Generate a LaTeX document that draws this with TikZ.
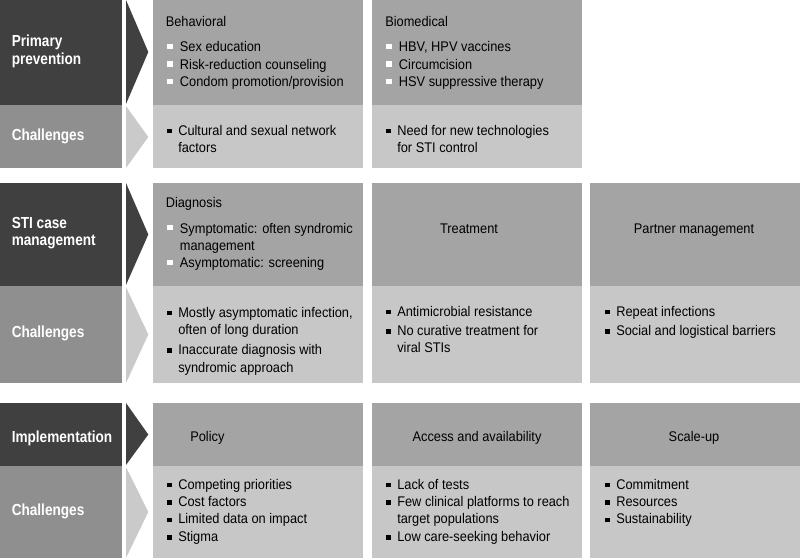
\documentclass[tikz,border=0pt]{standalone}
\usepackage{fontspec}
\setmainfont{Liberation Sans}[FakeStretch=0.915]
\newfontfamily\labelfont{Liberation Sans}[FakeStretch=0.85]
\usepackage{xcolor}
\definecolor{darkbox}{RGB}{64,64,64}
\definecolor{challbox}{RGB}{143,143,143}
\definecolor{topbox}{RGB}{164,164,164}
\definecolor{lowbox}{RGB}{199,199,199}
\definecolor{lightarrow}{RGB}{202,202,202}
\newcommand{\wsq}{\makebox[9.5pt][l]{\textcolor{white}{\rule[2pt]{4pt}{4pt}}}}
\newcommand{\bsq}{\makebox[8.25pt][l]{\rule[1.2pt]{3.6pt}{3.6pt}}}
\newcommand{\rows}[1]{\begin{tabular}[t]{@{}l@{}l@{}}#1\end{tabular}}
\newcommand{\lines}[1]{\begin{tabular}[t]{@{}l@{}}#1\end{tabular}}

\begin{document}
\begin{tikzpicture}[x=0.75pt,y=-0.75pt,
		every node/.style={inner sep=0pt, font=\fontsize{10.5}{13.1}\selectfont},
		rowlabel/.style={anchor=base west, text=white, font=\labelfont\bfseries\fontsize{12}{12.8}\selectfont},
		head/.style={anchor=base west},
		midhead/.style={anchor=base},
		items/.style={anchor=base west}]
		\useasboundingbox (0,0) rectangle (800,560);

		\fill[darkbox] (0,0) rectangle (122,105);
		\fill[challbox] (0,105) rectangle (122,168);
		\fill[darkbox] (126,0) -- (148.3,52) -- (126,104) -- cycle;
		\fill[lightarrow] (126,106) -- (148.3,137) -- (126,168) -- cycle;
		\fill[topbox] (153,0) rectangle (363,105);
		\fill[lowbox] (153,105) rectangle (363,168);
		\fill[topbox] (372,0) rectangle (582,105);
		\fill[lowbox] (372,105) rectangle (582,168);

		\fill[darkbox] (0,183) rectangle (122,286);
		\fill[challbox] (0,286) rectangle (122,383);
		\fill[darkbox] (126,183) -- (148.3,234.5) -- (126,285) -- cycle;
		\fill[lightarrow] (126,287) -- (148.3,334.5) -- (126,383) -- cycle;
		\fill[topbox] (153,183) rectangle (363,286);
		\fill[lowbox] (153,286) rectangle (363,383);
		\fill[topbox] (372,183) rectangle (582,286);
		\fill[lowbox] (372,286) rectangle (582,383);
		\fill[topbox] (590,183) rectangle (800,286);
		\fill[lowbox] (590,286) rectangle (800,383);

		\fill[darkbox] (0,403) rectangle (122,466);
		\fill[challbox] (0,466) rectangle (122,558);
		\fill[darkbox] (126,403) -- (148.3,434.5) -- (126,465) -- cycle;
		\fill[lightarrow] (126,467) -- (148.3,512) -- (126,558) -- cycle;
		\fill[topbox] (153,403) rectangle (363,466);
		\fill[lowbox] (153,466) rectangle (363,558);
		\fill[topbox] (372,403) rectangle (582,466);
		\fill[lowbox] (372,466) rectangle (582,558);
		\fill[topbox] (590,403) rectangle (800,466);
		\fill[lowbox] (590,466) rectangle (800,558);

		\node[rowlabel] (primary) at (11.5,47) {\lines{Primary\\prevention}};
		\node[rowlabel] (challprim) at (11.5,141) {Challenges};
		\node[rowlabel] (sticase) at (11.5,228) {\lines{STI case\\management}};
		\node[rowlabel] (challsti) at (11.5,337) {Challenges};
		\node[rowlabel] (implem) at (11.5,442) {Implementation};
		\node[rowlabel] (challimpl) at (11.5,515) {Challenges};

		\node[head] (behav) at (165.5,27) {Behavioral};
		\node[items] (behavlist) at (167,52) {\rows{\wsq & Sex education\\ \wsq & Risk-reduction counseling\\ \wsq & Condom promotion/provision}};
		\node[items] (behavchall) at (167,135) {\rows{\bsq & Cultural and sexual network\\ & factors}};
		\node[head] (biomed) at (385,27) {Biomedical};
		\node[items] (biomedlist) at (386,52) {\rows{\wsq & HBV, HPV vaccines\\ \wsq & Circumcision\\ \wsq & HSV suppressive therapy}};
		\node[items] (biomedchall) at (386,135) {\rows{\bsq & Need for new technologies\\ & for STI control}};

		\node[head] (diag) at (165.5,207) {Diagnosis};
		\node[items] (diaglist) at (167,233) {\rows{\wsq & Symptomatic: often syndromic\\ & management\\ \wsq & Asymptomatic: screening}};
		\node[midhead] (treat) at (469,233) {Treatment};
		\node[midhead] (partner) at (694,233) {Partner management};
		\node[items] (diagchall) at (167,317) {\rows{\bsq & Mostly asymptomatic infection,\\ & often of long duration\\[2pt] \bsq & Inaccurate diagnosis with\\ & syndromic approach}};
		\node[items] (treatchall) at (386,316) {\rows{\bsq & Antimicrobial resistance\\[1.5pt] \bsq & No curative treatment for\\ & viral STIs}};
		\node[items] (partnerchall) at (605,316) {\rows{\bsq & Repeat infections\\[1.5pt] \bsq & Social and logistical barriers}};

		\node[head] (policy) at (190,441) {Policy};
		\node[midhead] (access) at (477,441) {Access and availability};
		\node[midhead] (scaleup) at (694,441) {Scale-up};
		\node[items] (policychall) at (167,489) {\rows{\bsq & Competing priorities\\ \bsq & Cost factors\\ \bsq & Limited data on impact\\ \bsq & Stigma}};
		\node[items] (accesschall) at (386,489) {\rows{\bsq & Lack of tests\\ \bsq & Few clinical platforms to reach\\ & target populations\\ \bsq & Low care-seeking behavior}};
		\node[items] (scalechall) at (605,489) {\rows{\bsq & Commitment\\ \bsq & Resources\\ \bsq & Sustainability}};
\end{tikzpicture}
\end{document}
